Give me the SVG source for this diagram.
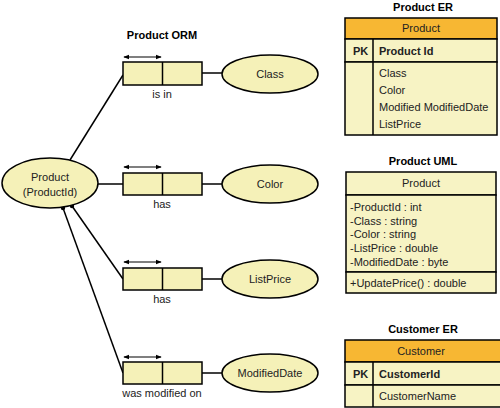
<svg xmlns="http://www.w3.org/2000/svg" width="500" height="408" viewBox="0 0 500 408">
<defs>
<marker id="ah" viewBox="0 0 8 8" refX="7" refY="4" markerWidth="6" markerHeight="6" orient="auto-start-reverse" markerUnits="userSpaceOnUse"><path d="M0,1 L8,4 L0,7 Z" fill="#000"/></marker>
</defs>
<style>
text{font-family:"Liberation Sans",Arial,sans-serif;font-size:11px;fill:#222}
.t{font-weight:bold;fill:#000}
.b{font-weight:bold}
.m{text-anchor:middle}
.el{fill:#f5f1b8;stroke:#000;stroke-width:1.5}
.bx{fill:#f5f1b8;stroke:#000;stroke-width:1.5}
.row{fill:#f7f3c4;stroke:#000;stroke-width:1.5}
.hd{fill:#f7b733;stroke:#000;stroke-width:1.5}
.ln{stroke:#000;stroke-width:1.5;fill:none}
.ar{stroke:#000;stroke-width:1.2;fill:none;marker-start:url(#ah);marker-end:url(#ah)}
</style>
<rect width="500" height="408" fill="#fff"/>
<g id="connectors">
<line class="ln" x1="70" y1="160" x2="123" y2="75"/>
<line class="ln" x1="98" y1="184" x2="123" y2="184"/>
<line class="ln" x1="72" y1="206" x2="123" y2="279"/>
<line class="ln" x1="63" y1="208" x2="123" y2="373"/>
<circle cx="72" cy="206" r="2.2" fill="#000"/>
<circle cx="63" cy="208" r="2.2" fill="#000"/>
<line class="ln" x1="202" y1="73" x2="222" y2="73"/>
<line class="ln" x1="202" y1="184" x2="222" y2="184"/>
<line class="ln" x1="202" y1="279" x2="222" y2="279"/>
<line class="ln" x1="202" y1="373" x2="222" y2="373"/>
</g>
<text class="t m" x="162" y="39">Product ORM</text>
<g id="product">
<ellipse class="el" cx="50" cy="183" rx="48" ry="25"/>
<text class="m" x="50" y="181">Product</text>
<text class="m" x="50" y="196">(ProductId)</text>
</g>
<g id="fact-isin">
<rect class="bx" x="123" y="62" width="79" height="23"/>
<line class="ln" x1="162.5" y1="62" x2="162.5" y2="85"/>
<line class="ar" x1="124" y1="57" x2="161" y2="57"/>
<text class="m" x="162" y="98">is in</text>
</g>
<g id="fact-has1">
<rect class="bx" x="123" y="173" width="79" height="22"/>
<line class="ln" x1="162.5" y1="173" x2="162.5" y2="195"/>
<line class="ar" x1="124" y1="167" x2="161" y2="167"/>
<text class="m" x="162" y="208">has</text>
</g>
<g id="fact-has2">
<rect class="bx" x="123" y="268" width="79" height="22"/>
<line class="ln" x1="162.5" y1="268" x2="162.5" y2="290"/>
<line class="ar" x1="124" y1="262" x2="161" y2="262"/>
<text class="m" x="162" y="303">has</text>
</g>
<g id="fact-modified">
<rect class="bx" x="123" y="362" width="79" height="22"/>
<line class="ln" x1="162.5" y1="362" x2="162.5" y2="384"/>
<line class="ar" x1="124" y1="357" x2="161" y2="357"/>
<text class="m" x="162" y="397">was modified on</text>
</g>
<g id="class">
<ellipse class="el" cx="270" cy="74" rx="48" ry="19"/>
<text class="m" x="270" y="78">Class</text>
</g>
<g id="color">
<ellipse class="el" cx="270" cy="184" rx="48" ry="19"/>
<text class="m" x="270" y="188">Color</text>
</g>
<g id="listprice">
<ellipse class="el" cx="270" cy="279" rx="48" ry="19"/>
<text class="m" x="270" y="283">ListPrice</text>
</g>
<g id="modifieddate">
<ellipse class="el" cx="270" cy="373" rx="48" ry="19"/>
<text class="m" x="270" y="377">ModifiedDate</text>
</g>
<g id="product-er">
<text class="t m" x="423" y="11">Product ER</text>
<rect class="hd" x="345" y="18" width="152" height="21"/>
<text class="m" x="421" y="32">Product</text>
<rect class="row" x="345" y="39" width="152" height="23"/>
<rect class="row" x="345" y="62" width="152" height="73"/>
<line class="ln" x1="373" y1="39" x2="373" y2="135"/>
<text class="b" x="353" y="55">PK</text>
<text class="b" x="379" y="55">Product Id</text>
<text x="379" y="77">Class</text>
<text x="379" y="94">Color</text>
<text x="379" y="111">Modified ModifiedDate</text>
<text x="379" y="128">ListPrice</text>
</g>
<g id="product-uml">
<text class="t m" x="423" y="165">Product UML</text>
<rect class="row" x="346" y="172" width="150" height="23"/>
<text class="m" x="421" y="187">Product</text>
<rect class="row" x="346" y="195" width="150" height="77"/>
<text x="350" y="211">-ProductId : int</text>
<text x="350" y="225">-Class : string</text>
<text x="350" y="238">-Color : string</text>
<text x="350" y="252">-ListPrice : double</text>
<text x="350" y="266">-ModifiedDate : byte</text>
<rect class="row" x="346" y="272" width="150" height="21"/>
<text x="350" y="287">+UpdatePrice() : double</text>
</g>
<g id="customer-er">
<text class="t m" x="423" y="333">Customer ER</text>
<rect class="hd" x="345" y="340" width="156" height="22"/>
<text class="m" x="421" y="355">Customer</text>
<rect class="row" x="345" y="362" width="156" height="23"/>
<rect class="row" x="345" y="385" width="156" height="22"/>
<line class="ln" x1="373" y1="362" x2="373" y2="407"/>
<text class="b" x="353" y="378">PK</text>
<text class="b" x="379" y="378">CustomerId</text>
<text x="379" y="400">CustomerName</text>
</g>
</svg>
